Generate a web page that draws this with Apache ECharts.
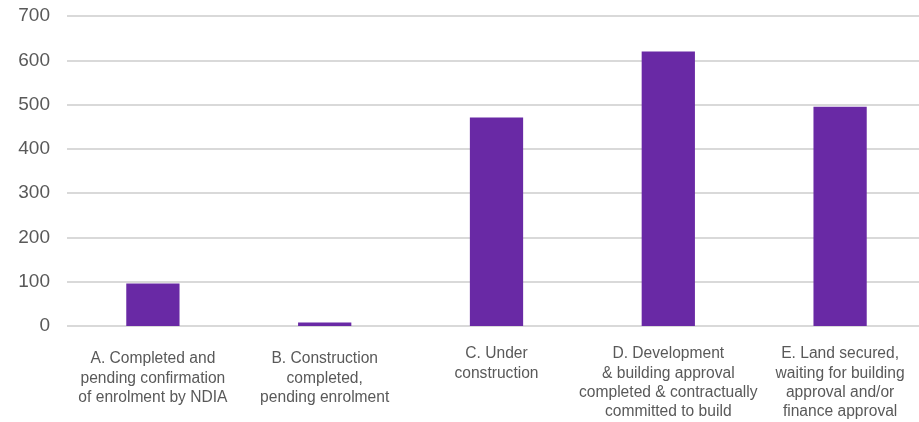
<!DOCTYPE html>
<html>
<head>
<meta charset="utf-8">
<script src="https://cdn.jsdelivr.net/npm/echarts@6/dist/echarts.min.js"></script>
<style>html,body{margin:0;padding:0;background:#fff;}#c{width:919px;height:422px;}</style>
</head>
<body>
<div id="c"></div>
<script>
const categories = [
  "A. Completed and\npending confirmation\nof enrolment by NDIA",
  "B. Construction\ncompleted,\npending enrolment",
  "C. Under\nconstruction",
  "D. Development\n& building approval\ncompleted & contractually\ncommitted to build",
  "E. Land secured,\nwaiting for building\napproval and/or\nfinance approval"
];
const values = [96, 8, 471, 620, 495];
const yTicks = [0, 100, 200, 300, 400, 500, 600, 700];

const lowered = [0, 1];
const catData = categories.map((c, i) => ({
  value: c,
  textStyle: { padding: [lowered.includes(i) ? 5 : 0, 0, 0, 0] }
}));

const chart = echarts.init(document.getElementById('c'));
chart.setOption({
  animation: false,
  textStyle: { fontFamily: 'Liberation Sans, Arial, sans-serif' },
  grid: { left: 67, width: 859, top: 16, bottom: 96, containLabel: false, outerBoundsMode: 'none' },
  xAxis: {
    type: 'category',
    data: catData,
    axisLine: { show: false },
    axisTick: { show: false },
    axisLabel: { color: '#595959', fontSize: 15.6, lineHeight: 19.3, margin: 18.5, interval: 0 }
  },
  yAxis: {
    type: 'value',
    min: yTicks[0], max: yTicks[yTicks.length - 1], interval: 100,
    axisLine: { show: false },
    axisTick: { show: false },
    axisLabel: { color: '#595959', fontSize: 19, margin: 17 },
    splitLine: { lineStyle: { color: '#d9d9d9', width: 2 } }
  },
  series: [{
    type: 'bar',
    data: values,
    barWidth: '31%',
    itemStyle: { color: '#6929a5' }
  }]
});
</script>
</body>
</html>
